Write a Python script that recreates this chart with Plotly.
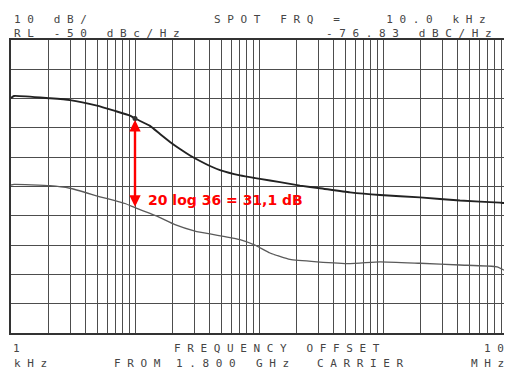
import plotly.graph_objects as go

# phase noise traces (Hz, dBc/Hz)
upper_freq = [1000, 1057, 2063, 2991, 4937, 6898, 9113, 10000, 13213, 15906, 19152, 23064,
              27767, 33440, 40260, 48480, 70290, 101880, 147700, 214100, 310400, 541900,
              945850, 1988000, 4178000, 8781000, 9636000, 10000000]
upper_db = [-69.8, -69.1, -69.9, -70.5, -72.4, -74.2, -75.8, -76.8, -79.3, -82.1, -84.8, -87.2,
            -89.4, -91.3, -93.0, -94.4, -96.2, -97.4, -98.5, -99.7, -100.6, -102.0,
            -102.9, -103.7, -104.8, -105.5, -105.6, -104.4]

lower_freq = [1000, 1057, 2063, 2991, 5220, 6898, 8306, 10000, 13213, 15906, 21014, 30468,
              40260, 53195, 70290, 92845, 122680, 177830, 293530, 541900, 945850, 1988000,
              4178000, 8306000, 10000000]
lower_db = [-99.5, -99.3, -99.7, -100.6, -103.5, -104.8, -105.8, -107.2, -109.2, -110.6, -113.0,
            -115.2, -116.2, -117.1, -118.1, -120.0, -122.7, -124.9, -125.7, -126.3, -125.7,
            -126.2, -126.8, -127.4, -129.1]

spot_freq = 10000
spot_top = -76.83
spot_bottom = -106.9
delta_label = "20 log 36 = 31,1 dB"

# header / footer text of the analyzer plot (text, x, y, anchor)
header = [("10 dB/", 13, 19.5, "left"), ("SPOT FRQ =   10.0 kHz", 213, 19.5, "left"),
          ("RL -50 dBc/Hz", 13, 33.5, "left"), ("-76.83 dBC/Hz", 325, 33.5, "left")]
footer = [("1", 12, 348, "left"), ("FREQUENCY OFFSET", 173, 348, "left"), ("10", 505, 348, "right"),
          ("kHz", 13, 363, "left"), ("FROM", 113, 363, "left"), ("1.800", 175, 363, "left"),
          ("GHz", 255, 363, "left"), ("CARRIER", 316, 363, "left"), ("MHz", 505, 363, "right")]

# page body has an 8px margin, so the figure is drawn 8px smaller and shifted
OFF = 8
W, H = 512 - OFF, 372 - OFF
L, R, T, B = 11 - OFF, 5, 40 - OFF, 39


def px(x):
    return (x - OFF - L) / (W - L - R)


def py(y):
    return (H - B - (y - OFF)) / (H - T - B)


fig = go.Figure()
fig.add_trace(go.Scatter(x=lower_freq, y=lower_db, mode="lines",
                         line=dict(color="#5a5a5a", width=1.3, shape="spline", smoothing=0.4)))
fig.add_trace(go.Scatter(x=upper_freq, y=upper_db, mode="lines",
                         line=dict(color="#222222", width=1.9, shape="spline", smoothing=0.4)))
fig.add_trace(go.Scatter(x=[spot_freq], y=[spot_top], mode="markers",
                         marker=dict(color="#333333", size=5)))

grid_vals = [m * 10 ** d for d in range(3, 7) for m in range(1, 10)] + [10 ** 7]

fig.update_xaxes(type="log", range=[3, 7], tickmode="array", tickvals=grid_vals,
                 showticklabels=False, ticks="", showgrid=True, gridcolor="#4d4d4d", gridwidth=1.2,
                 showline=True, linecolor="#333333", linewidth=1.5, mirror=True, zeroline=False)
fig.update_yaxes(range=[-150, -50], dtick=10, showticklabels=False, ticks="",
                 showgrid=True, gridcolor="#4d4d4d", gridwidth=1.2,
                 showline=True, linecolor="#333333", linewidth=1.5, mirror=True, zeroline=False)

# double-headed measurement arrow
fig.add_annotation(x=4, y=spot_bottom, ax=4, ay=spot_top, xref="x", yref="y", axref="x", ayref="y",
                   text="", showarrow=True, arrowside="end+start", arrowhead=2, startarrowhead=2,
                   arrowsize=0.95, startarrowsize=0.95, arrowwidth=2.4, arrowcolor="#ff0000")
fig.add_annotation(x=px(146), y=py(200), xref="paper", yref="paper", xanchor="left", yanchor="middle",
                   text=delta_label, showarrow=False,
                   font=dict(family="DejaVu Sans", size=14, color="#ff0000", weight="bold"))

for s, x, y, anchor in header + footer:
    fig.add_annotation(x=px(x), y=py(y), xref="paper", yref="paper", xanchor=anchor, yanchor="middle",
                       text=" ".join(s), showarrow=False, borderpad=0,
                       font=dict(family="DejaVu Sans Mono", size=11, color="#454545"))

fig.update_layout(width=W, height=H, margin=dict(l=L, r=R, t=T, b=B), showlegend=False,
                  paper_bgcolor="white", plot_bgcolor="white")

fig.write_html("out.html")
